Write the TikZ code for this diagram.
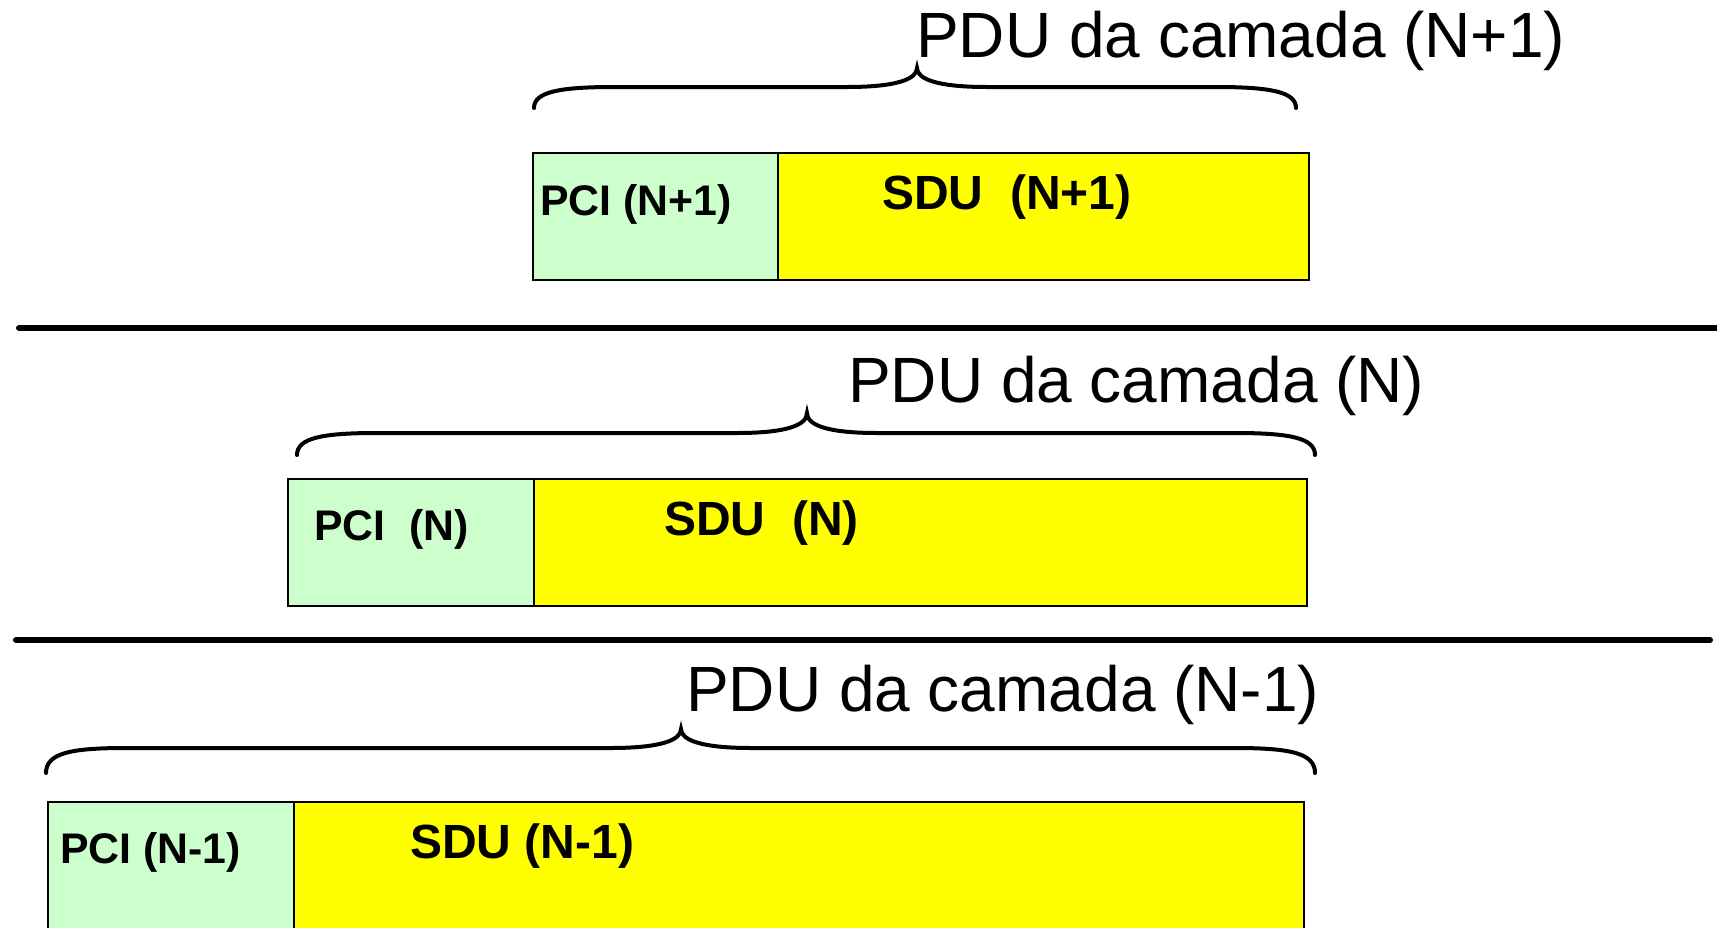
\documentclass[tikz,border=0pt]{standalone}
\usepackage{fontspec}
\setmainfont{Liberation Sans}
\definecolor{pcigreen}{HTML}{CCFFCC}
\definecolor{sduyellow}{HTML}{FFFF00}
% curly brace over a PDU: #1 left end x, #2 right end x, #3 tip x,
% #4 end y, #5 bar y, #6 tip y
\newcommand\pdubrace[6]{%
  \draw[bracepath] (#1,#4) .. controls (#1,#5+5) and (#1+25,#5) .. (#1+80,#5)
    -- (#3-70,#5) .. controls (#3-20,#5) and (#3,#5-8) .. (#3,#6)
    .. controls (#3,#5-8) and (#3+20,#5) .. (#3+70,#5)
    -- (#2-80,#5) .. controls (#2-25,#5) and (#2,#5+5) .. (#2,#4);}
\begin{document}
\begin{tikzpicture}[x=1pt,y=-1pt,
  field/.style={draw=black, line width=2pt, inner sep=0pt, anchor=north west},
  pcifield/.style={field, fill=pcigreen},
  sdufield/.style={field, fill=sduyellow},
  pcilabel/.style={inner sep=0pt, anchor=base west, font=\fontsize{42.8}{48}\selectfont\bfseries},
  sdulabel/.style={inner sep=0pt, anchor=base west, font=\fontsize{48}{54}\selectfont\bfseries},
  pdulabel/.style={inner sep=0pt, anchor=base west, font=\fontsize{64}{72}\selectfont},
  bracepath/.style={line width=4pt, line cap=round},
  layerline/.style={line width=6pt, line cap=round}]
\clip (0,0) rectangle (1717,927);
\fill[white] (0,0) rectangle (1717,927);

% layer N+1
\node[pdulabel] (pduA) at (916,57) {PDU da camada (N+1)};
\pdubrace{534}{1296}{917}{108}{87}{68}
\node[pcifield, minimum width=245pt, minimum height=127pt] (pciA) at (532,152) {};
\node[sdufield, minimum width=531pt, minimum height=127pt] (sduA) at (777,152) {};
\node[pcilabel] (pciAtext) at (540,215) {PCI (N+1)};
\node[sdulabel] (sduAtext) at (882,209) {SDU~~(N+1)};

% boundary between N+1 and N
\coordinate (sepAl) at (19,328);
\coordinate (sepAr) at (1730,328);
\draw[layerline] (sepAl) -- (sepAr);

% layer N
\node[pdulabel] (pduB) at (848,402.7) {PDU da camada (N)};
\pdubrace{297}{1315}{807}{455}{433}{413}
\node[pcifield, minimum width=246pt, minimum height=127pt] (pciB) at (287,478) {};
\node[sdufield, minimum width=773pt, minimum height=127pt] (sduB) at (533,478) {};
\node[pcilabel] (pciBtext) at (314,540.7) {PCI~~(N)};
\node[sdulabel] (sduBtext) at (664,535.7) {SDU~~(N)};

% boundary between N and N-1
\coordinate (sepBl) at (16,640);
\coordinate (sepBr) at (1710,640);
\draw[layerline] (sepBl) -- (sepBr);

% layer N-1
\node[pdulabel] (pduC) at (686,711.7) {PDU da camada (N-1)};
\pdubrace{46}{1315}{681}{773}{748}{729}
\node[pcifield, minimum width=246pt, minimum height=160pt] (pciC) at (47,801) {};
\node[sdufield, minimum width=1010pt, minimum height=160pt] (sduC) at (293,801) {};
\node[pcilabel] (pciCtext) at (60,863) {PCI (N-1)};
\node[sdulabel] (sduCtext) at (410,858) {SDU (N-1)};
\end{tikzpicture}
\end{document}
